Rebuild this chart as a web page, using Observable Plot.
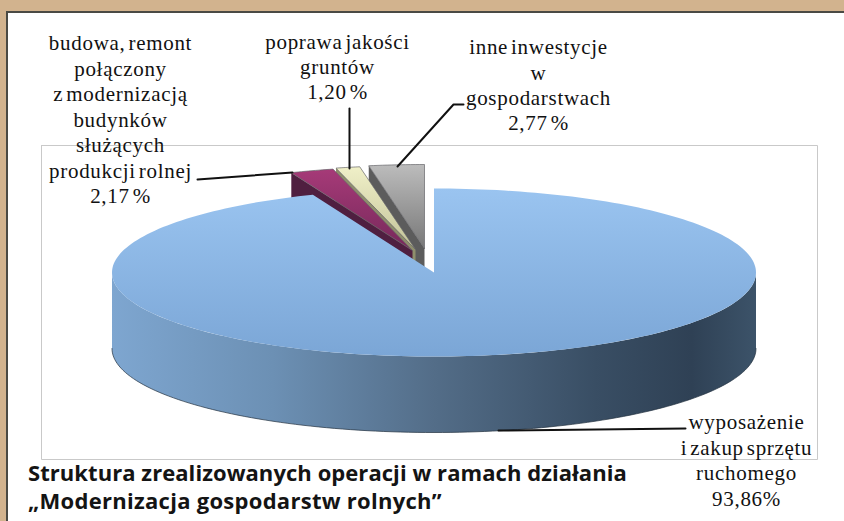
<!DOCTYPE html>
<html><head><meta charset="utf-8">
<script src="https://cdn.jsdelivr.net/npm/d3@7"></script>
<script src="https://cdn.jsdelivr.net/npm/@observablehq/plot@0.6"></script>
<style>
html,body{margin:0;padding:0;background:#d2b38e;width:844px;height:521px;overflow:hidden}
#panel{position:absolute;left:6px;top:11px;width:838px;height:510px;background:#fff;border-top:2px solid #4a4a44;border-left:2px solid #4a4a44;box-sizing:border-box}
#chart{position:absolute;left:0;top:0}
svg{background:transparent!important}
</style></head><body>
<div id="panel"></div><div id="chart"></div>
<script>
const categories = ["wyposażenie i zakup sprzętu ruchomego","budowa, remont połączony z modernizacją budynków służących produkcji rolnej","poprawa jakości gruntów","inne inwestycje w gospodarstwach"];
const shares = [93.86, 2.17, 1.20, 2.77];
const topFills = ["url(#gBlue)","url(#gMag)","url(#gCream)","url(#gGray)"];
const wallFills = ["url(#gSide)","#4f1f40","#8f8f6c","#5c5c5c"];
const drawOrder = [3,2,1,0];
const labels = [
 {cx:120, y:[43,68.5,94,119.5,145,170.5,196], t:["budowa, remont","połączony","z modernizacją","budynków","służących","produkcji rolnej","2,17 %"]},
 {cx:337, y:[42,67,92], t:["poprawa jakości","gruntów","1,20 %"]},
 {cx:538, y:[47,73,98,123], t:["inne inwestycje","w","gospodarstwach","2,77 %"]},
 {cx:746, y:[422,448,473,499], t:["wyposażenie","i zakup sprzętu","ruchomego","93,86%"]}
];
const titleLines = [["Struktura zrealizowanych operacji w ramach działania",473,0.06],["„Modernizacja gospodarstw rolnych”",501,0.28]];

// layout, in pixels of the picture
const CX=433.5, CY=272, RX=322, RY=84, DEPTH=76;
const offsets = [[CX,CY],[412,250],[415,249],[424,248]].map(o=>[(o[0]-CX)/RX,(CY-o[1])/RY]);
const D = DEPTH/RY;
const arcPts=(a0,a1,n,ox,oy,dz=0)=>d3.range(n+1).map(i=>{const a=a0+(a1-a0)*i/n;return {x:ox+Math.sin(a),y:oy+Math.cos(a)-dz};});
const polys=[];
let acc=0; const spans=shares.map(v=>{const s=[acc,acc+v/100*2*Math.PI];acc=s[1];return s;});
const add=(id,pts,fill,stroke)=>pts.forEach(p=>polys.push({id,fill,stroke,...p}));
for(const i of drawOrder){
  const [a0,a1]=spans[i]; const [ox,oy]=offsets[i];
  if(i===0){
    const f0=Math.PI/2,f1=3*Math.PI/2;
    const rim=[...arcPts(f0,f1,120,ox,oy),...arcPts(f1,f0,120,ox,oy,D)];
    add("side",rim,wallFills[0],"none");
    add("sideEdge",arcPts(f1,f0,120,ox,oy,D),"none","#22303f");
    add("top",[{x:ox,y:oy},...arcPts(a0,a1,240,ox,oy)],topFills[0],"none");
  } else {
    const c={x:ox,y:oy}, e={x:ox+Math.sin(a0),y:oy+Math.cos(a0)};
    add("wall"+i,[c,e,{x:e.x,y:e.y-D},{x:c.x,y:c.y-D}],wallFills[i],"none");
    add("top"+i,[c,...arcPts(a0,a1,12,ox,oy),c],topFills[i],"#66666a");
  }
}
const grad=(id,x2,y2,stops)=>`<linearGradient id="${id}" x1="0" y1="0" x2="${x2}" y2="${y2}">${stops.map(([o,c])=>`<stop offset="${o}" stop-color="${c}"/>`).join("")}</linearGradient>`;
const defs=()=>{const g=document.createElementNS("http://www.w3.org/2000/svg","defs");
 g.innerHTML=grad("gBlue",0,1,[[0,"#9ac4f0"],[1,"#7ba6d6"]])
 +grad("gMag",0,1,[[0,"#a63a78"],[1,"#76285a"]])
 +grad("gCream",0,1,[[0,"#f0f0c8"],[1,"#c2c298"]])
 +grad("gGray",0,1,[[0,"#bcbcbc"],[1,"#787878"]])
 +grad("gSide",1,0,[[0,"#7ea6d0"],[0.25,"#6c90b4"],[0.5,"#536d88"],[0.75,"#394e64"],[0.9,"#2f4155"],[1,"#3c5369"]]);
 return g;};
const X=px=>(px-CX)/RX, Y=py=>(CY-py)/RY;
const leaders=[[[197,179],[292,172]],[[349,108],[349,168]],[[397,166],[453,104],[463,104]],[[498,430],[685,428]]]
 .flatMap((l,i)=>l.map(([a,b])=>({i,x:X(a),y:Y(b)})));
const frame=[[41,145],[817,145],[817,459],[41,459],[41,145]].map(([a,b])=>({x:X(a),y:Y(b)}));
const textRows=labels.flatMap(l=>l.t.map((t,i)=>({t,x:X(l.cx),y:Y(l.y[i])})));
const spaced=(ls,ws)=>(i,s,v,d,c,next)=>{const g=next(i,s,v,d,c);g.style.letterSpacing=ls+"px";g.style.wordSpacing=ws+"px";return g;};
const plot=Plot.plot({width:844,height:521,margin:0,
 x:{domain:[-1,1],range:[CX-RX,CX+RX],axis:null},
 y:{domain:[1,-1],range:[CY-RY,CY+RY],axis:null},
 style:{background:"transparent"},
 marks:[defs,
  Plot.line(frame,{x:"x",y:"y",stroke:"#c9c9c9",strokeWidth:1}),
  Plot.line(polys,{x:"x",y:"y",z:"id",fill:"fill",stroke:"stroke",strokeWidth:0.7}),
  Plot.line(leaders,{x:"x",y:"y",z:"i",stroke:"#111",strokeWidth:2}),
  Plot.text(textRows,{x:"x",y:"y",text:"t",fontSize:21,fontFamily:"Liberation Serif",fill:"#111",textAnchor:"middle",lineAnchor:"middle",render:spaced(0.7,-3)}),
  ...titleLines.map(t=>Plot.text([t],{x:()=>X(27.5),y:d=>Y(d[1]),text:d=>d[0],fontSize:22,fontWeight:700,fontFamily:"Open Sans",fill:"#141414",textAnchor:"start",lineAnchor:"middle",render:spaced(t[2],0)}))
 ]});
document.getElementById("chart").append(plot);
</script></body></html>
